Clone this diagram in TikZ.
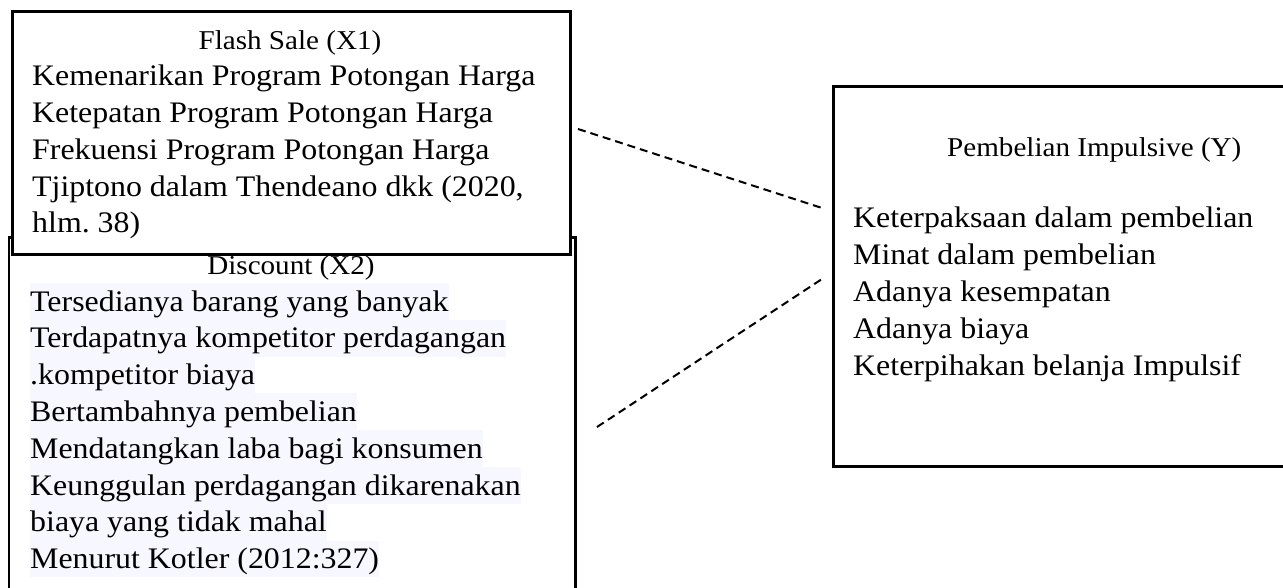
\documentclass[tikz,border=0pt]{standalone}
\usepackage{fontspec}
\setmainfont[FakeStretch=1.07]{Liberation Serif}
\definecolor{hl}{RGB}{247,247,255}
\frenchspacing
\begin{document}
\begin{tikzpicture}[x=1pt,y=-1pt,
  box/.style={draw=black,line width=2.6pt,fill=white,inner sep=0pt,anchor=north west},
  itm/.style={inner sep=0pt,anchor=base west,font=\fontsize{29.8}{36.8}\selectfont},
  ttl/.style={inner sep=0pt,anchor=base,font=\fontsize{27.2}{36.8}\selectfont},
  hlt/.style={itm,fill=hl,text height=28pt,text depth=8.8pt},
  link/.style={dash pattern=on 8pt off 5pt,line width=2pt}]
\useasboundingbox (0,0) rectangle (1283,588);
\clip (0,0) rectangle (1283,588);
% boxes
\node[box,minimum width=566.5pt,minimum height=404pt] (disc) at (7.5,236) {};
\node[box,minimum width=558pt,minimum height=243pt] (fs) at (11,10) {};
\node[box,minimum width=468pt,minimum height=380pt] (imp) at (832,85) {};
% Flash Sale box text
\node[ttl] (fst) at (290,50) {Flash Sale (X1)};
\node[itm] (fs1) at (32,86) {Kemenarikan Program Potongan Harga};
\node[itm] (fs2) at (32,122.75) {Ketepatan Program Potongan Harga};
\node[itm] (fs3) at (32,159.5) {Frekuensi Program Potongan Harga};
\node[itm] (fs4) at (32,196.25) {Tjiptono dalam Thendeano dkk (2020,};
\node[itm] (fs5) at (32,233) {hlm.\ 38)};
% Discount box text
\node[ttl] (dct) at (291,275) {Discount (X2)};
\node[hlt] (d1) at (30,311) {Tersedianya barang yang banyak};
\node[hlt] (d2) at (30,347.8) {Terdapatnya kompetitor perdagangan};
\node[hlt] (d3) at (30,384.6) {.kompetitor biaya};
\node[hlt] (d4) at (30,421.4) {Bertambahnya pembelian};
\node[hlt] (d5) at (30,458.2) {Mendatangkan laba bagi konsumen};
\node[hlt] (d6) at (30,495) {Keunggulan perdagangan dikarenakan};
\node[hlt] (d7) at (30,531.8) {biaya yang tidak mahal};
\node[hlt] (d8) at (30,568.6) {Menurut Kotler (2012:327)};
% Impulsive box text
\node[ttl,anchor=base west] (impt) at (947,157) {Pembelian Impulsive (Y)};
\node[itm] (i1) at (853,228) {Keterpaksaan dalam pembelian};
\node[itm] (i2) at (853,264.8) {Minat dalam pembelian};
\node[itm] (i3) at (853,301.6) {Adanya kesempatan};
\node[itm] (i4) at (853,338.4) {Adanya biaya};
\node[itm] (i5) at (853,375.2) {Keterpihakan belanja Impulsif};
% connectors
\coordinate (a1) at (578,129);
\coordinate (b1) at (822,208);
\coordinate (a2) at (597,427);
\coordinate (b2) at (822,279);
\draw[link] (a1) -- (b1);
\draw[link] (a2) -- (b2);
\end{tikzpicture}
\end{document}
